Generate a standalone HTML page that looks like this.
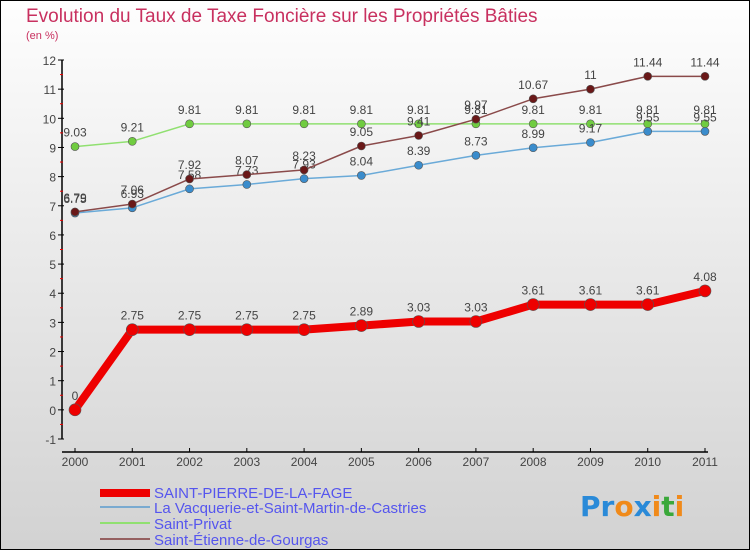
<!DOCTYPE html>
<html><head><meta charset="utf-8"><style>
html,body{margin:0;padding:0}
body{width:750px;height:550px;overflow:hidden;font-family:"Liberation Sans",sans-serif}
#c{position:absolute;left:0;top:0;width:748px;height:548px;border:1px solid #000;background:linear-gradient(#fefefe,#d2d2d2)}
</style></head><body>
<div id="c">
<svg id="s" width="748" height="548" viewBox="1 1 748 548" style="position:absolute;left:0;top:0">
<text x="26" y="22" font-size="19" fill="#c8305f">Evolution du Taux de Taxe Foncière sur les Propriétés Bâties</text>
<text x="26" y="39" font-size="11" fill="#c8305f">(en %)</text>
<g id="axes"></g><g id="series"></g>
<g font-size="15" fill="#5555ee">
<rect x="100" y="489" width="50" height="8" fill="#e00"/>
<text x="154" y="498">SAINT-PIERRE-DE-LA-FAGE</text>
<rect x="100" y="506" width="50" height="2" fill="#7aaad0"/>
<text x="154" y="513">La Vacquerie-et-Saint-Martin-de-Castries</text>
<rect x="100" y="522" width="50" height="2" fill="#90e070"/>
<text x="154" y="529">Saint-Privat</text>
<rect x="100" y="538" width="50" height="2" fill="#956060"/>
<text x="154" y="545">Saint-Étienne-de-Gourgas</text>
</g>
<g font-size="28" font-weight="bold" font-family="'DejaVu Sans',sans-serif">
<text x="580" y="516"><tspan fill="#2a8ad8">Pr</tspan><tspan fill="#f08a1a">o</tspan><tspan fill="#2a8ad8">x</tspan><tspan fill="#f08a1a">i</tspan><tspan fill="#3aa83a">t</tspan><tspan fill="#f08a1a">i</tspan></text>
</g>
</svg>
</div>
<script>
const years=[2000,2001,2002,2003,2004,2005,2006,2007,2008,2009,2010,2011];
const yTicks=[-1,0,1,2,3,4,5,6,7,8,9,10,11,12];
const stPierre=[0,2.75,2.75,2.75,2.75,2.89,3.03,3.03,3.61,3.61,3.61,4.08];
const vacquerie=[6.75,6.93,7.58,7.73,7.93,8.04,8.39,8.73,8.99,9.17,9.55,9.55];
const stPrivat=[9.03,9.21,9.81,9.81,9.81,9.81,9.81,9.81,9.81,9.81,9.81,9.81];
const stEtienne=[6.79,7.06,7.92,8.07,8.23,9.05,9.41,9.97,10.67,11,11.44,11.44];
const NS="http://www.w3.org/2000/svg";
const xS=i=>75+i*(630/11);
const yS=v=>439-(v+1)*(379/13);
function mk(t,a,p){const e=document.createElementNS(NS,t);for(const k in a)e.setAttribute(k,a[k]);p.appendChild(e);return e;}
const ax=document.getElementById('axes');
let l=mk('line',{x1:62,y1:yS(12),x2:62,y2:yS(-1),stroke:'#000','stroke-width':1.5},ax);


l=mk('line',{x1:62,y1:452,x2:708,y2:452,stroke:'#000','stroke-width':1.5},ax);


yTicks.forEach(v=>{
 mk('line',{x1:58,y1:yS(v),x2:64,y2:yS(v),stroke:'#000'},ax);
 if(v<12) mk('line',{x1:60,y1:yS(v+0.5),x2:63,y2:yS(v+0.5),stroke:'#e00'},ax);
 const t=mk('text',{x:56,y:yS(v)+5,'font-size':12,fill:'#444','text-anchor':'end'},ax);
 t.textContent=v;
 
 
});
years.forEach((y,i)=>{
 mk('line',{x1:xS(i),y1:448,x2:xS(i),y2:452,stroke:'#000'},ax);
 const t=mk('text',{x:xS(i),y:466,'font-size':12,fill:'#444','text-anchor':'middle'},ax);
 t.textContent=y;
 
 
});
const sg=document.getElementById('series');
function series(vals,color,dot,w,r,name){
 const g=mk('g',{},sg);
 
 
 const p=mk('polyline',{points:vals.map((v,i)=>xS(i)+','+yS(v)).join(' '),fill:'none',stroke:color,'stroke-width':w,'stroke-linejoin':'round'},g);
 
 
 vals.forEach((v,i)=>{
  const c=mk('circle',{cx:xS(i),cy:yS(v),r:r,fill:dot,stroke:'#555','stroke-width':0.6},g);
  
  
  const t=mk('text',{x:xS(i),y:yS(v)-10,'font-size':12,fill:'#444','text-anchor':'middle'},g);
  t.textContent=String(v);
  
  
 });
}
series(stPrivat,'#90e070','#70cc40',1.5,4,'saint-privat');
series(vacquerie,'#6aaad8','#3a8ccc',1.5,4,'vacquerie');
series(stEtienne,'#8a4a4a','#6a1818',1.5,4,'saint-etienne');
series(stPierre,'#ee0000','#ee0000',8,6,'saint-pierre');
</script>
</body></html>
